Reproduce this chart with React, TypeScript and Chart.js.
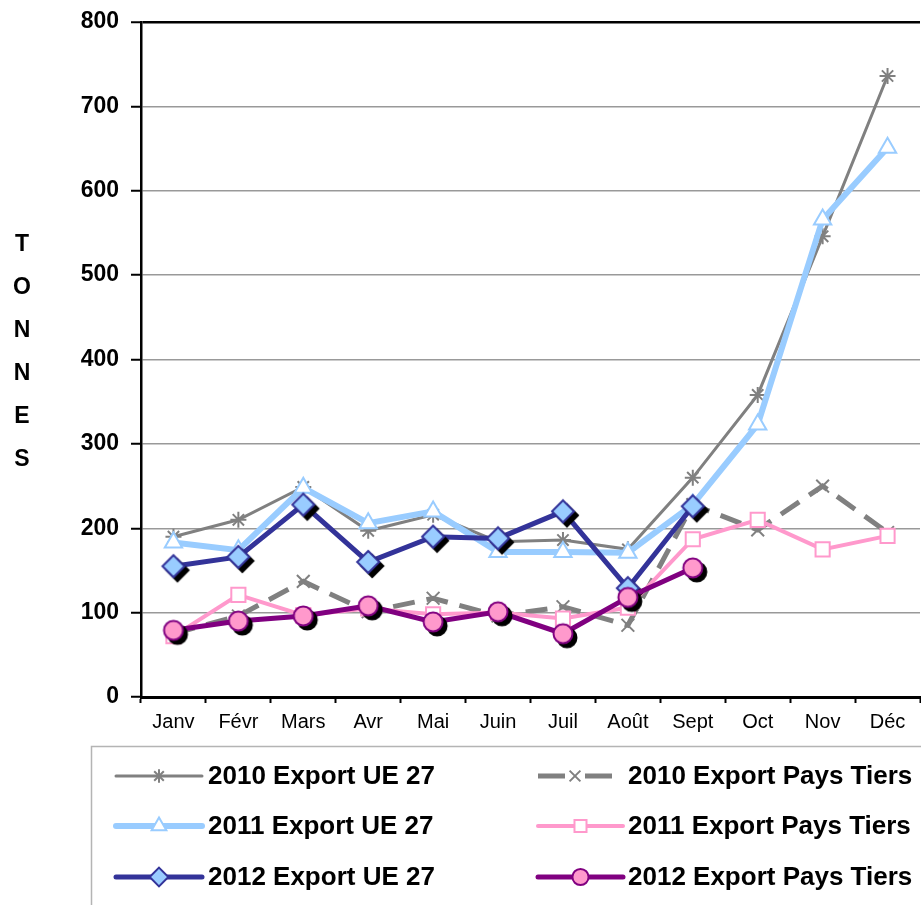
import React, { useEffect, useRef } from 'react';
import { Chart, registerables } from 'chart.js';

Chart.register(...registerables);

// ---------- data ----------
const months = ['Janv', 'Févr', 'Mars', 'Avr', 'Mai', 'Juin', 'Juil', 'Août', 'Sept', 'Oct', 'Nov', 'Déc'];
const yAxisLetters = ['T', 'O', 'N', 'N', 'E', 'S'];
const seriesNames = [
  '2010 Export UE 27',
  '2010 Export Pays Tiers',
  '2011 Export UE 27',
  '2011 Export Pays Tiers',
  '2012 Export UE 27',
  '2012 Export Pays Tiers',
];
const export2010UE = [190, 210, 249, 197, 216, 184, 186, 175, 260, 358, 546, 736];
const export2010PT = [75, 96, 137, 101, 117, 96, 107, 85, 228, 198, 250, 195];
const export2011UE = [183, 174, 248, 206, 220, 172, 172, 171, 228, 323, 566, 651];
const export2011PT = [72, 121, 97, 105, 98, 100, 93, 106, 187, 210, 175, 191];
const export2012UE = [155, 166, 228, 160, 190, 188, 220, 129, 226, null, null, null];
const export2012PT = [79, 90, 96, 108, 89, 101, 75, 118, 153, null, null, null];

// ---------- styles ----------
const FONT = "'Liberation Sans', Arial, Helvetica, sans-serif";
const styles = [
  { color: '#808080', width: 3, dash: [] as number[], shape: 'star', r: 8, fill: '#808080', stroke: '#808080' },
  { color: '#808080', width: 5, dash: [22, 12], shape: 'crossRot', r: 9, fill: '#808080', stroke: '#808080' },
  { color: '#99CCFF', width: 6, dash: [] as number[], shape: 'triangle', r: 10, fill: '#FFFFFF', stroke: '#99CCFF' },
  { color: '#FF99CC', width: 4, dash: [] as number[], shape: 'rect', r: 10, fill: '#FFFFFF', stroke: '#FF99CC' },
  { color: '#333399', width: 5, dash: [] as number[], shape: 'diamond', r: 11, fill: '#99CCFF', stroke: '#333399' },
  { color: '#800080', width: 5, dash: [] as number[], shape: 'circle', r: 9.5, fill: '#FF99CC', stroke: '#800080' },
];

function drawMarker(ctx: CanvasRenderingContext2D, shape: string, x: number, y: number, r: number, fill: string, stroke: string, lw: number) {
  ctx.save();
  ctx.setLineDash([]);
  ctx.lineWidth = lw;
  ctx.strokeStyle = stroke;
  ctx.fillStyle = fill;
  ctx.beginPath();
  if (shape === 'star') {
    for (let k = 0; k < 4; k++) {
      const a = (k * Math.PI) / 4;
      ctx.moveTo(x + Math.cos(a) * r, y + Math.sin(a) * r);
      ctx.lineTo(x - Math.cos(a) * r, y - Math.sin(a) * r);
    }
    ctx.stroke();
  } else if (shape === 'crossRot') {
    const s = r * Math.SQRT1_2;
    ctx.moveTo(x - s, y - s); ctx.lineTo(x + s, y + s);
    ctx.moveTo(x + s, y - s); ctx.lineTo(x - s, y + s);
    ctx.stroke();
  } else if (shape === 'triangle') {
    ctx.moveTo(x, y - r);
    ctx.lineTo(x + r * 0.866, y + r * 0.5);
    ctx.lineTo(x - r * 0.866, y + r * 0.5);
    ctx.closePath();
    ctx.fill(); ctx.stroke();
  } else if (shape === 'rect') {
    const s = r * Math.SQRT1_2;
    ctx.rect(x - s, y - s, 2 * s, 2 * s);
    ctx.fill(); ctx.stroke();
  } else if (shape === 'diamond') {
    ctx.moveTo(x, y - r); ctx.lineTo(x + r, y); ctx.lineTo(x, y + r); ctx.lineTo(x - r, y);
    ctx.closePath();
    ctx.fill(); ctx.stroke();
  } else {
    ctx.arc(x, y, r, 0, Math.PI * 2);
    ctx.fill(); ctx.stroke();
  }
  ctx.restore();
}

function makeShadowMarker(shape: string, r: number, fill: string, stroke: string, off: number) {
  const half = Math.ceil(r + off + 3);
  const c = document.createElement('canvas');
  c.width = half * 2;
  c.height = half * 2;
  const ctx = c.getContext('2d') as CanvasRenderingContext2D;
  drawMarker(ctx, shape, half + off, half + off, r, '#000000', '#000000', 2);
  drawMarker(ctx, shape, half, half, r, fill, stroke, 2);
  return c;
}

const decorPlugin = {
  id: 'decor',
  afterDraw(chart: any) {
    const ctx: CanvasRenderingContext2D = chart.ctx;
    ctx.save();
    // vertical axis title, stacked letters
    ctx.fillStyle = '#000';
    ctx.font = `bold 23px ${FONT}`;
    ctx.textAlign = 'center';
    ctx.textBaseline = 'middle';
    yAxisLetters.forEach((l, i) => ctx.fillText(l, 22, 245 + i * 43));

    // legend box
    ctx.strokeStyle = '#b4b4b4';
    ctx.lineWidth = 1.5;
    ctx.strokeRect(91.5, 746.5, 900, 200);

    const rowsY = [776, 826, 877];
    const cols = [
      { x0: 116, x1: 202, tx: 208 },
      { x0: 538, x1: 623, tx: 628 },
    ];
    seriesNames.forEach((name, i) => {
      const st = styles[i];
      const row = Math.floor(i / 2);
      const col = cols[i % 2];
      const y = rowsY[row];
      const x1 = i === 1 ? 612 : col.x1;
      ctx.save();
      ctx.strokeStyle = st.color;
      ctx.lineWidth = st.width;
      ctx.lineCap = st.dash.length ? 'butt' : 'round';
      ctx.beginPath();
      if (st.dash.length) {
        const cx = (col.x0 + x1) / 2;
        ctx.moveTo(col.x0, y); ctx.lineTo(cx - 10, y);
        ctx.moveTo(cx + 10, y); ctx.lineTo(x1, y);
      } else {
        ctx.moveTo(col.x0, y); ctx.lineTo(x1, y);
      }
      ctx.stroke();
      ctx.restore();
      const mx = (col.x0 + x1) / 2;
      drawMarker(ctx, st.shape, mx, y, st.r * 0.85, st.fill, st.stroke, 2);
      ctx.fillStyle = '#000';
      ctx.font = `bold 26px ${FONT}`;
      ctx.textAlign = 'left';
      ctx.textBaseline = 'middle';
      ctx.fillText(name, col.tx, y + 1);
    });
    ctx.restore();
  },
};

export default function App() {
  const ref = useRef<HTMLCanvasElement | null>(null);

  useEffect(() => {
    document.body.style.margin = '0';
    if (!ref.current) return;
    const diamond = makeShadowMarker('diamond', 11, '#99CCFF', '#333399', 4);
    const circle = makeShadowMarker('circle', 9.5, '#FF99CC', '#800080', 4);
    const seriesData = [export2010UE, export2010PT, export2011UE, export2011PT, export2012UE, export2012PT];

    const datasets = seriesData.map((d, i) => {
      const st = styles[i];
      let pointStyle: any = st.shape;
      if (i === 4) pointStyle = diamond;
      if (i === 5) pointStyle = circle;
      return {
        label: seriesNames[i],
        data: d,
        borderColor: st.color,
        borderWidth: st.width,
        borderDash: st.dash,
        backgroundColor: st.color,
        pointStyle,
        pointRadius: st.r,
        pointBackgroundColor: st.fill,
        pointBorderColor: st.stroke,
        pointBorderWidth: 2,
        tension: 0,
        spanGaps: false,
        fill: false,
        clip: 20,
        order: 6 - i,
      };
    });

    const chart = new Chart(ref.current, {
      type: 'line',
      data: { labels: months, datasets },
      options: {
        animation: false,
        responsive: false,
        maintainAspectRatio: false,
        layout: { autoPadding: false, padding: { top: 22, right: 1, left: 0, bottom: 0 } },
        plugins: { legend: { display: false }, tooltip: { enabled: false }, title: { display: false } },
        scales: {
          x: {
            type: 'category',
            offset: true,
            grid: {
              display: true,
              drawOnChartArea: false,
              drawTicks: true,
              offset: true,
              tickLength: 6,
              tickColor: '#000',
              tickWidth: 2,
            },
            border: { display: true, color: '#000', width: 3 },
            ticks: {
              color: '#000',
              font: { family: FONT, size: 20 },
              padding: 7,
              maxRotation: 0,
              autoSkip: false,
            },
            afterFit: (s: any) => {
              s.height = 208;
              s.paddingLeft = 0;
              s.paddingRight = 0;
            },
          },
          y: {
            min: 0,
            max: 800,
            ticks: {
              stepSize: 100,
              color: '#000',
              font: { family: FONT, size: 23, weight: 'bold' },
              padding: 12,
            },
            grid: {
              color: (c: any) => (c.tick && c.tick.value === 800 ? '#000' : '#999999'),
              lineWidth: (c: any) => (c.tick && c.tick.value === 800 ? 2.5 : 1.5),
              tickColor: '#000',
              tickLength: 10,
              tickWidth: 2,
            },
            border: { display: true, color: '#000', width: 2.5 },
            afterFit: (s: any) => {
              s.width = 141;
              s.paddingTop = 0;
              s.paddingBottom = 0;
            },
          },
        },
      },
      plugins: [decorPlugin],
    });
    return () => chart.destroy();
  }, []);

  return (
    <div style={{ width: 921, height: 905, position: 'relative', background: '#fff' }}>
      <canvas ref={ref} width={921} height={905} style={{ display: 'block', width: 921, height: 905 }} />
    </div>
  );
}
